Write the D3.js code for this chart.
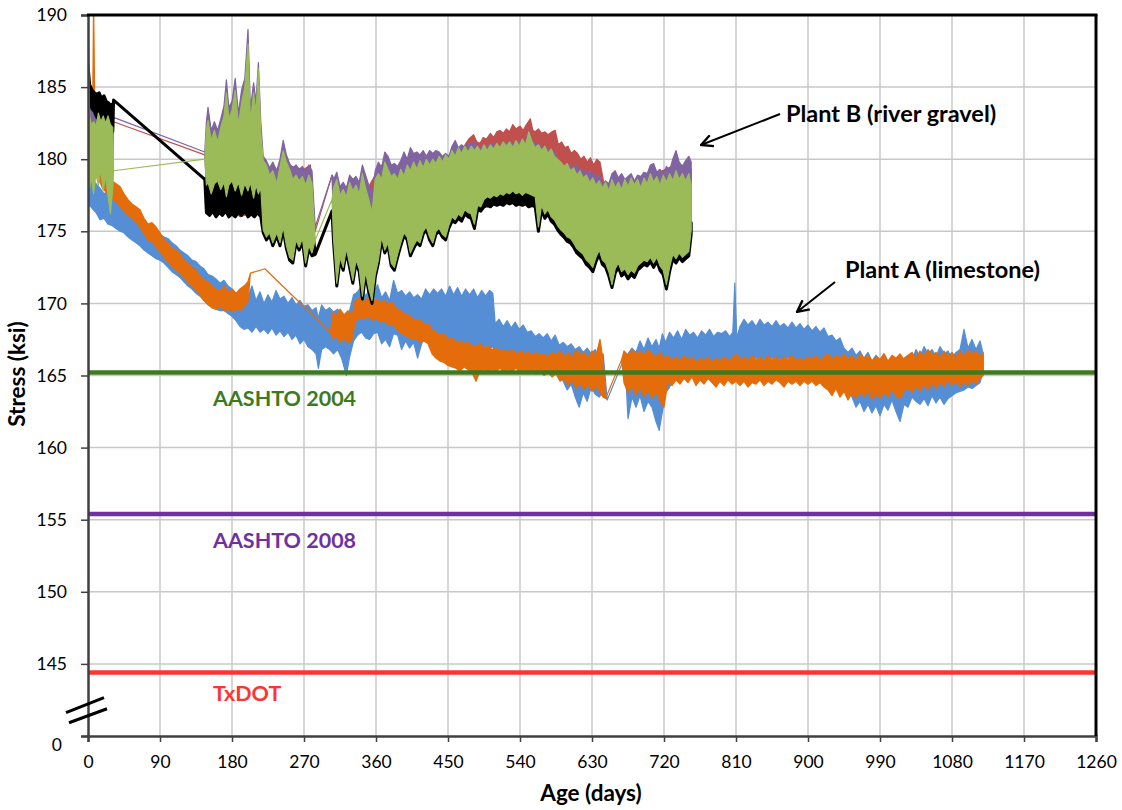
<!DOCTYPE html>
<html>
<head>
<meta charset="utf-8">
<script src="https://cdn.jsdelivr.net/npm/d3@7"></script>
<style>
  body { margin: 0; background: #fff; }
  text { font-family: Lato, "Open Sans", sans-serif; }
</style>
</head>
<body>
<svg id="chart" width="1122" height="810"></svg>
<script>
// Axis ticks
const ageTicks = [0, 90, 180, 270, 360, 450, 540, 630, 720, 810, 900, 990, 1080, 1170, 1260];
const stressTicks = [140, 145, 150, 155, 160, 165, 170, 175, 180, 185, 190];
const stressTickLabels = ["0", "145", "150", "155", "160", "165", "170", "175", "180", "185", "190"];

// Code limits (ksi)
const limitNames = ["AASHTO 2004", "AASHTO 2008", "TxDOT"];
const limitValues = [165.2, 155.4, 144.4];
const limitColors = ["#3d7a1f", "#7030a0", "#ff3333"];

// Strand stress records: [age (days), daily low (ksi), daily high (ksi)]
// Plant A (limestone)
const plantABlue = [[0,177.0,191.0],[2,176.8,179.0],[5,176.6,178.6],[10,176.3,178.3],[15,175.8,178.0],[20,175.9,177.6],[25,175.5,177.8],[30,175.4,177.3],[35,175.2,177.4],[40,175.0,177.0],[45,174.9,176.9],[50,174.6,176.6],[55,174.4,176.5],[60,174.2,176.1],[65,174.0,176.0],[70,173.7,175.6],[75,173.5,175.4],[80,173.3,175.2],[85,173.1,175.0],[90,173.0,174.8],[95,172.8,174.6],[100,172.5,174.5],[105,172.2,174.2],[110,172.0,174.0],[115,171.8,173.7],[120,171.5,173.5],[125,171.2,173.3],[130,171.0,173.0],[135,170.7,172.9],[140,170.5,172.6],[145,170.2,172.4],[150,170.0,172.0],[155,169.7,171.9],[160,169.6,171.7],[165,169.5,171.4],[170,169.5,171.6],[175,169.3,171.2],[180,169.1,171.0],[185,168.8,170.7],[190,168.4,170.6],[195,168.2,170.3],[200,168.3,170.5],[205,168.0,171.2],[210,168.4,170.2],[215,168.0,170.8],[220,168.2,170.0],[225,167.9,170.6],[230,168.3,170.1],[235,167.8,170.9],[240,168.1,170.3],[245,167.7,170.5],[250,168.0,170.0],[255,167.5,170.4],[260,167.8,169.9],[265,167.2,170.2],[270,167.5,169.8],[275,167.0,169.9],[280,166.8,169.5],[285,166.5,169.7],[288,165.5,169.0],[292,166.8,169.9],[297,167.0,169.5],[302,166.8,169.7],[307,166.5,169.4],[312,166.8,169.6],[317,166.2,169.2],[323,165.0,168.8],[327,166.3,169.5],[332,167.4,170.6],[337,167.8,170.8],[342,168.0,171.2],[347,167.6,170.5],[352,167.5,171.0],[357,167.9,170.7],[362,168.0,171.3],[367,167.2,170.4],[372,167.5,170.8],[377,167.0,170.2],[382,167.9,171.6],[387,167.8,170.7],[392,166.8,170.9],[397,167.4,170.5],[402,166.9,170.8],[407,167.3,170.4],[412,166.2,170.6],[417,167.2,170.3],[422,167.8,171.0],[427,167.6,170.6],[432,167.9,171.0],[437,167.5,170.7],[442,167.7,171.0],[447,167.6,170.5],[452,167.2,171.2],[457,166.9,170.6],[462,167.3,171.1],[467,167.0,170.5],[472,166.8,171.0],[477,167.2,170.6],[482,166.9,171.0],[487,167.0,170.4],[492,166.8,170.9],[497,167.1,170.5],[502,166.9,170.9],[506,167.0,170.7],[509,166.6,168.6],[514,166.4,168.9],[519,166.6,168.4],[524,166.2,168.8],[529,166.5,168.3],[534,166.3,168.7],[539,166.6,168.2],[544,166.2,168.5],[549,166.4,168.0],[554,166.2,168.1],[559,166.4,167.7],[564,166.1,167.9],[569,166.3,167.6],[574,166.0,167.9],[579,166.2,167.4],[584,165.7,167.8],[589,165.2,167.1],[594,164.6,167.3],[599,164.0,167.0],[604,164.4,167.2],[609,163.5,166.8],[614,162.8,167.0],[619,163.8,166.6],[624,163.2,166.9],[629,164.2,166.5],[634,163.7,166.8],[639,163.5,166.2],[644,163.9,166.5],[649,163.3,163.3],[671,166.3,166.3],[675,162.0,166.5],[680,163.5,166.9],[685,162.8,166.6],[690,163.6,167.4],[695,162.5,166.8],[700,163.2,167.6],[705,162.8,167.0],[710,161.8,167.5],[714,161.2,166.9],[718,162.5,167.9],[722,163.8,167.3],[727,164.2,168.0],[732,164.8,167.6],[737,165.0,168.1],[742,165.3,167.5],[747,165.6,168.2],[752,165.2,167.8],[757,165.5,168.0],[762,165.4,167.6],[767,165.6,168.1],[772,165.3,167.8],[777,165.7,168.2],[782,165.4,167.7],[787,165.8,168.0],[792,165.5,167.9],[797,165.9,168.1],[802,165.6,167.7],[806,165.8,168.0],[808.5,165.9,171.4],[811,165.8,167.6],[815,166.0,168.4],[820,166.2,168.9],[825,166.1,168.5],[830,166.3,168.8],[835,166.2,168.4],[840,166.3,168.9],[845,166.1,168.5],[850,166.3,168.7],[855,166.2,168.4],[860,166.3,168.8],[865,166.1,168.4],[870,166.3,168.6],[875,166.2,168.3],[880,166.3,168.7],[885,166.1,168.3],[890,166.2,168.6],[895,166.0,168.2],[900,166.2,168.5],[905,166.0,168.1],[910,166.1,168.4],[915,165.9,168.0],[920,166.0,168.3],[925,165.6,167.7],[930,165.4,167.8],[935,165.5,167.4],[940,165.3,167.6],[945,164.8,166.9],[950,164.0,166.6],[955,163.5,166.9],[960,162.8,166.4],[965,163.2,166.7],[970,162.5,166.2],[975,163.0,166.6],[980,162.4,166.0],[985,162.9,166.4],[990,162.2,166.1],[995,163.0,166.5],[1000,162.6,165.9],[1005,163.3,166.3],[1010,162.5,166.0],[1015,161.8,165.8],[1020,163.0,166.2],[1025,162.8,166.4],[1030,163.5,166.0],[1035,163.2,166.8],[1040,163.0,166.3],[1045,163.4,167.0],[1050,162.9,166.5],[1055,163.6,166.8],[1060,163.1,166.3],[1065,163.5,167.0],[1070,163.0,166.5],[1075,163.4,166.7],[1080,163.6,166.2],[1085,163.8,166.6],[1090,163.9,166.8],[1095,164.0,168.2],[1100,164.2,166.9],[1105,164.1,167.5],[1110,164.3,166.8],[1115,164.5,167.4],[1119,165.3,166.5]];

const plantAOrange = [[0,180.5,183.5],[3,180.0,182.2],[6,179.7,184.5],[7,179.5,191.0],[9,179.0,180.8],[12,178.6,179.8],[15,178.4,179.6],[18,178.0,179.2],[21,177.8,179.0],[25,177.6,178.6],[30,177.3,178.5],[35,177.0,178.3],[40,176.7,178.1],[45,176.4,177.6],[50,176.1,177.2],[55,175.9,176.9],[60,175.6,176.7],[65,175.3,176.5],[70,174.8,175.9],[75,174.4,175.5],[80,174.3,175.6],[85,173.9,175.3],[90,173.6,174.9],[95,173.2,174.4],[100,172.9,174.2],[105,172.6,173.8],[110,172.3,173.7],[115,172.1,173.4],[120,171.8,173.0],[125,171.5,172.8],[130,171.2,172.5],[135,170.9,172.3],[140,170.6,171.9],[145,170.2,171.6],[150,169.9,171.5],[155,169.7,171.2],[160,169.6,171.0],[165,169.8,170.9],[170,169.5,171.2],[175,169.6,170.8],[180,169.4,171.0],[185,169.6,170.7],[190,169.5,171.0],[195,169.8,171.2],[200,170.1,171.5],[203,172.1,172.1],[221,172.4,172.4],[303,168.0,168.0],[306,167.5,169.4],[310,167.8,169.1],[315,167.3,169.6],[320,167.6,169.2],[325,167.2,169.5],[330,167.5,169.1],[334,168.7,170.2],[340,169.0,170.4],[345,168.9,170.1],[350,169.1,170.4],[355,168.8,170.0],[360,169.0,170.3],[365,168.7,170.1],[370,168.8,170.2],[375,168.5,169.9],[380,168.6,170.1],[385,168.3,169.7],[390,168.0,169.5],[395,167.8,169.3],[400,167.7,169.2],[405,167.5,169.0],[410,167.6,168.8],[415,167.3,168.9],[420,167.4,168.5],[425,167.2,168.6],[430,166.5,168.2],[435,166.2,168.0],[440,166.0,167.8],[445,165.9,167.9],[450,165.7,167.5],[455,165.6,167.6],[460,165.5,167.3],[465,165.3,167.4],[470,165.6,167.2],[475,165.4,167.3],[480,165.2,167.1],[485,164.6,167.0],[490,165.3,167.2],[495,165.4,166.9],[500,165.2,167.1],[505,165.4,166.8],[510,165.3,166.9],[515,165.5,166.7],[520,165.2,166.8],[525,165.4,166.6],[530,165.3,166.8],[535,165.5,166.5],[540,165.2,166.7],[545,165.4,166.5],[550,165.2,166.6],[555,165.3,166.4],[560,165.1,166.6],[565,165.3,166.4],[570,165.0,166.5],[575,165.2,166.3],[580,164.9,166.6],[585,165.1,166.4],[590,164.6,166.7],[595,164.8,166.3],[600,164.3,166.6],[605,164.7,166.2],[610,164.1,166.8],[615,164.5,166.4],[620,164.0,166.6],[625,164.4,166.2],[630,163.9,166.7],[635,164.3,166.4],[640,163.8,167.5],[644,163.5,166.0],[647,163.4,163.4],[667,166.1,166.1],[670,164.5,166.7],[675,163.8,166.4],[680,164.3,166.8],[685,163.6,166.5],[690,164.2,166.7],[695,163.5,166.4],[700,164.0,166.8],[705,163.4,166.5],[710,163.9,166.3],[715,163.2,166.6],[720,162.8,166.2],[725,164.6,166.4],[730,164.3,166.1],[735,164.7,166.3],[740,164.4,166.0],[745,164.8,166.4],[750,164.5,166.1],[755,164.9,166.3],[760,164.3,165.9],[765,164.7,166.2],[770,164.4,166.0],[775,164.8,166.3],[780,164.5,165.9],[785,164.2,166.2],[790,164.6,166.0],[795,164.3,166.3],[800,164.7,166.0],[805,164.4,166.2],[810,164.6,166.5],[815,164.3,166.1],[820,164.6,166.3],[825,164.2,166.0],[830,164.5,166.4],[835,164.4,166.1],[840,164.7,166.3],[845,164.3,166.0],[850,164.6,166.4],[855,164.4,166.1],[860,164.7,166.3],[865,164.5,166.0],[870,164.2,166.3],[875,164.6,166.1],[880,164.4,166.4],[885,164.6,166.0],[890,164.3,166.2],[895,164.6,166.0],[900,164.4,166.3],[905,164.6,166.1],[910,164.3,166.4],[915,164.5,166.0],[920,164.2,166.3],[925,164.0,166.5],[930,163.6,166.1],[935,164.1,166.4],[940,163.5,166.2],[945,163.9,166.5],[950,163.3,166.1],[955,163.8,166.4],[960,163.4,166.0],[965,163.9,166.5],[970,163.5,166.2],[975,164.0,166.4],[980,163.3,166.0],[985,163.8,166.3],[990,163.4,166.1],[995,163.9,166.5],[1000,163.5,166.0],[1005,164.0,166.4],[1010,163.6,166.2],[1015,163.4,166.5],[1020,163.9,166.1],[1025,164.2,166.4],[1030,163.8,166.6],[1035,164.3,166.2],[1040,163.9,166.7],[1045,164.4,166.3],[1050,164.0,166.8],[1055,164.5,166.4],[1060,164.1,166.6],[1065,164.6,166.2],[1070,164.2,166.7],[1075,164.7,166.3],[1080,164.3,166.6],[1085,164.6,166.2],[1090,164.2,166.7],[1095,164.6,166.3],[1100,164.3,166.8],[1105,164.7,166.4],[1110,164.4,166.7],[1115,164.8,166.3],[1119,165.0,166.6]];

// Plant B (river gravel)
const plantBRed = [[0,180.0,184.2],[5,180.5,183.2],[10,180.2,183.0],[15,180.5,183.2],[20,180.0,182.8],[25,180.3,182.5],[31,180.0,182.6],[32,182.6,182.6],[146,180.3,180.3],[150,176.5,181.2],[160,176.4,181.4],[170,176.2,181.0],[180,176.5,181.6],[190,176.0,181.2],[200,176.2,181.4],[210,176.5,181.0],[216,176.4,181.3],[219,175.5,179.6],[230,175.0,179.0],[240,175.2,179.5],[250,174.5,179.6],[260,174.6,179.4],[270,174.0,179.3],[278,174.3,179.6],[284,175.0,175.0],[305,178.9,178.9],[310,175.0,178.3],[320,174.0,178.0],[330,174.0,178.3],[340,173.5,178.0],[350,173.0,178.0],[360,174.0,179.0],[370,175.0,179.8],[380,174.5,179.3],[390,175.0,179.4],[400,175.5,180.0],[410,175.5,180.0],[420,176.0,180.1],[430,176.0,180.2],[440,176.0,180.2],[450,176.5,180.1],[460,177.0,180.6],[470,177.0,180.9],[476,177.5,181.4],[482,177.5,181.7],[486,177.5,181.2],[490,177.5,181.1],[494,177.5,181.5],[498,177.5,181.4],[503,177.5,181.8],[507,177.5,181.5],[511,177.5,181.9],[515,177.5,182.0],[519,177.5,181.8],[523,177.5,182.1],[527,177.5,181.9],[531,177.5,182.4],[535,177.5,182.1],[540,177.5,182.3],[544,177.5,182.0],[548,177.5,182.4],[553,177.5,182.8],[556,177.5,182.0],[559,177.5,181.9],[563,177.5,182.1],[567,177.5,181.8],[571,177.5,181.9],[575,177.5,181.7],[580,177.5,181.9],[584,177.5,182.0],[588,177.0,181.0],[592,177.0,181.2],[596,176.5,180.8],[600,176.5,180.9],[604,176.0,180.4],[608,176.0,180.6],[612,175.5,180.4],[616,175.5,180.0],[620,175.5,180.2],[624,175.0,179.8],[628,175.0,180.1],[632,175.0,179.6],[636,175.0,180.0],[640,175.0,179.8],[644,175.0,178.6],[648,175.0,177.8],[655,175.0,178.6],[670,175.0,178.4],[690,175.0,178.5],[710,175.0,179.0],[730,175.0,179.5],[750,175.0,179.6],[754,175.5,179.3]];

const plantBPurple = [[0,180.0,185.5],[2,181.5,184.6],[5,181.2,184.0],[8,181.0,183.9],[11,181.4,183.7],[14,181.0,184.1],[17,181.3,183.6],[20,181.0,183.5],[23,180.7,183.7],[26,180.6,183.3],[29,180.4,183.2],[31,180.6,183.0],[32,182.9,182.9],[146,180.5,180.5],[148,178.0,182.6],[150,177.8,183.6],[154,178.0,182.0],[158,177.6,182.6],[162,178.0,182.0],[166,177.7,182.8],[170,178.2,183.7],[173,177.6,185.5],[176,178.0,183.6],[180,177.7,184.0],[184,178.0,185.6],[188,177.5,183.2],[192,177.8,184.8],[196,177.6,185.6],[200,178.0,189.0],[203,177.4,183.5],[207,177.9,185.3],[210,177.6,184.0],[213,177.8,186.7],[216,177.2,182.6],[219,176.0,180.2],[223,175.5,179.9],[227,175.8,179.4],[231,175.2,179.8],[236,175.8,179.2],[240,175.2,180.0],[244,176.2,181.3],[248,175.0,180.3],[252,174.2,179.7],[256,174.0,179.4],[260,175.3,179.6],[264,174.9,179.3],[268,175.4,179.5],[272,173.8,179.1],[276,175.0,179.6],[280,174.5,179.2],[284,175.3,175.3],[305,178.9,178.9],[307,175.4,178.6],[311,172.6,179.1],[315,174.2,178.1],[319,173.5,178.4],[323,174.8,178.0],[327,173.7,178.9],[331,172.6,178.6],[335,174.0,178.8],[339,173.4,178.4],[343,171.6,179.6],[347,173.2,178.9],[351,172.0,178.2],[355,171.3,177.4],[359,173.0,179.2],[363,174.0,179.8],[367,175.6,179.4],[371,174.7,180.5],[375,175.2,180.2],[379,173.8,179.6],[383,173.5,179.7],[387,174.4,179.5],[391,175.2,179.9],[395,175.9,180.5],[399,175.6,180.0],[403,174.5,180.8],[407,175.0,180.4],[411,175.4,180.5],[415,175.2,180.3],[419,176.0,180.6],[423,176.3,180.2],[427,175.6,180.6],[431,175.2,180.4],[435,176.0,180.6],[439,176.2,180.5],[443,175.8,180.2],[447,175.6,180.4],[451,176.4,180.2],[455,177.0,180.9],[459,176.8,181.3],[463,177.2,180.8],[467,177.0,181.0],[471,177.5,180.8],[475,177.3,181.1],[479,177.2,181.0],[483,176.5,181.2],[487,177.6,180.8],[491,177.6,180.7],[495,177.8,181.0],[499,177.9,180.8],[503,177.9,181.1],[507,178.0,181.0],[511,178.0,180.8],[515,178.0,180.9],[519,178.0,181.0],[523,178.1,181.1],[527,178.0,181.2],[531,178.1,181.0],[535,178.0,181.1],[539,178.0,181.3],[543,177.9,181.0],[547,178.0,181.3],[551,177.9,182.0],[555,177.8,181.3],[559,177.7,181.0],[563,176.3,181.1],[567,177.6,180.8],[571,177.2,180.9],[575,177.4,180.6],[579,177.0,180.7],[583,176.8,180.5],[587,176.4,180.0],[591,176.1,179.6],[595,175.9,179.5],[599,175.6,179.7],[603,175.5,179.5],[607,175.2,179.4],[611,174.8,179.6],[615,174.6,179.2],[619,174.4,179.3],[623,174.0,179.0],[627,173.8,179.2],[631,173.5,179.0],[635,174.2,178.8],[639,174.7,178.9],[643,174.0,178.2],[647,173.8,178.5],[651,173.2,178.3],[655,172.3,179.0],[659,173.4,179.2],[663,173.8,178.7],[667,173.2,179.0],[671,173.4,178.6],[675,173.0,178.8],[679,173.3,179.0],[683,173.1,178.5],[687,173.6,178.9],[691,173.8,178.8],[695,174.0,179.1],[699,173.9,179.0],[703,174.2,179.6],[707,173.8,179.7],[711,174.2,179.1],[715,173.6,179.3],[719,173.3,178.9],[723,172.3,179.5],[727,173.5,179.2],[731,174.4,180.0],[735,174.1,180.6],[739,174.5,179.8],[743,174.2,179.5],[747,174.4,179.9],[751,174.6,180.2],[754,176.1,179.8]];

const plantBBlack = [[0,184.5,186.5],[2,184.0,185.2],[5,183.5,184.8],[8,183.3,184.6],[11,182.9,184.5],[14,182.7,184.6],[17,182.5,184.2],[20,182.8,184.4],[23,182.4,184.0],[26,181.9,183.9],[27,181.0,183.6],[29,182.2,183.8],[31,181.9,183.5],[32,184.1,184.1],[146,178.6,178.6],[148,176.3,178.7],[152,176.1,178.5],[156,176.4,178.8],[160,176.0,178.4],[164,176.3,178.9],[168,176.1,178.5],[172,176.4,178.7],[176,176.0,178.4],[180,176.2,178.8],[184,176.0,178.5],[188,176.3,179.0],[192,176.1,178.6],[196,176.4,178.9],[200,176.0,178.5],[204,176.2,178.8],[208,176.0,178.4],[212,176.3,178.7],[216,176.0,178.2],[219,174.9,177.0],[223,174.4,176.6],[227,174.7,176.8],[231,174.0,176.3],[236,174.7,176.8],[240,174.0,176.2],[244,175.1,177.0],[248,173.8,176.0],[252,173.0,175.5],[256,172.8,175.2],[260,174.2,176.3],[264,173.7,175.9],[268,174.3,176.5],[272,172.6,175.0],[276,173.8,176.0],[280,173.3,175.6],[284,173.4,173.4],[305,176.4,176.4],[307,174.2,176.2],[311,171.2,174.0],[315,173.0,175.2],[319,172.3,174.6],[323,173.6,175.8],[327,172.5,174.8],[331,171.4,174.0],[335,172.8,175.0],[339,172.2,174.5],[343,170.3,173.0],[347,172.0,174.3],[351,170.8,173.4],[355,170.0,172.8],[359,171.8,174.2],[363,172.8,175.0],[367,174.4,176.4],[371,173.5,175.8],[375,174.0,176.2],[379,172.6,175.0],[383,172.3,174.8],[387,173.2,175.5],[391,174.0,176.2],[395,174.7,176.8],[399,174.4,176.5],[403,173.3,175.6],[407,173.8,176.0],[411,174.2,176.4],[415,174.0,176.2],[419,174.8,176.8],[423,175.1,177.0],[427,174.4,176.6],[431,174.0,176.2],[435,174.8,176.9],[439,175.0,177.0],[443,174.6,176.8],[447,174.4,176.7],[451,175.2,177.2],[455,175.7,177.4],[459,175.6,177.3],[463,175.9,177.5],[467,175.7,177.4],[471,176.2,177.6],[475,176.0,177.5],[479,175.9,177.6],[483,175.2,177.4],[487,176.5,177.7],[491,176.4,177.8],[495,176.7,177.8],[499,176.8,177.9],[503,176.7,177.8],[507,176.9,178.0],[511,176.8,177.9],[515,176.9,178.0],[519,176.8,178.0],[523,177.0,178.1],[527,176.9,178.0],[531,177.0,178.1],[535,176.8,178.0],[539,176.9,178.1],[543,176.8,177.9],[547,176.9,178.0],[551,176.7,177.9],[555,176.8,177.8],[559,176.7,177.7],[563,175.0,177.2],[567,176.5,177.5],[571,175.9,177.3],[575,176.2,177.4],[579,175.7,177.2],[583,175.5,177.0],[587,175.1,176.8],[591,174.8,176.6],[595,174.6,176.4],[599,174.3,176.2],[603,174.2,176.1],[607,173.9,175.9],[611,173.5,175.6],[615,173.3,175.5],[619,173.1,175.3],[623,172.7,175.0],[627,172.5,174.8],[631,172.2,174.6],[635,172.9,175.0],[639,173.4,175.4],[643,172.7,174.9],[647,172.5,174.8],[651,171.9,174.3],[655,171.1,173.8],[659,172.1,174.4],[663,172.5,174.7],[667,171.9,174.3],[671,172.1,174.5],[675,171.7,174.2],[679,172.0,174.4],[683,171.8,174.3],[687,172.3,174.6],[691,172.5,174.8],[695,172.7,174.9],[699,172.6,174.9],[703,172.9,175.1],[707,172.5,174.8],[711,172.9,175.1],[715,172.3,174.7],[719,172.0,174.4],[723,171.0,173.8],[727,172.2,174.5],[731,173.1,175.2],[735,172.8,175.0],[739,173.2,175.3],[743,172.9,175.1],[747,173.1,175.2],[751,173.3,175.4],[754,174.8,175.6]];

const plantBGreen = [[0,178.5,190.5],[2,178.0,183.0],[4,178.8,182.4],[7,177.6,182.6],[10,179.0,182.3],[13,178.2,183.2],[16,179.3,182.6],[19,177.8,183.0],[22,178.9,182.5],[25,177.5,183.0],[28,176.2,182.4],[31,178.0,182.2],[32,179.2,179.2],[146,180.0,180.0],[148,178.2,182.0],[150,178.4,182.7],[154,177.6,181.3],[158,178.3,182.0],[162,178.5,181.2],[166,177.9,182.2],[170,178.4,183.0],[173,177.4,184.6],[176,178.2,182.8],[180,178.5,183.4],[184,177.8,184.8],[188,178.4,182.4],[192,177.5,183.9],[196,178.3,185.0],[200,177.8,188.0],[203,178.4,182.6],[207,177.3,184.6],[210,178.2,183.2],[213,177.6,186.3],[216,178.0,181.8],[219,175.1,179.9],[223,174.6,179.6],[227,174.9,178.9],[231,174.2,179.2],[236,174.9,178.3],[240,174.2,179.5],[244,175.3,180.6],[248,174.0,179.8],[252,173.2,179.3],[256,173.0,178.6],[260,174.4,178.9],[264,173.9,178.5],[268,174.5,178.8],[272,172.8,178.2],[276,174.0,178.9],[280,173.5,178.3],[284,174.4,174.4],[305,177.2,177.2],[307,174.4,178.0],[311,171.4,178.6],[315,173.2,177.5],[319,172.5,177.9],[323,173.8,177.4],[327,172.7,178.4],[331,171.6,177.8],[335,173.0,178.2],[339,172.4,177.6],[343,170.5,179.0],[347,172.2,178.0],[351,171.0,177.2],[355,170.2,176.3],[359,172.0,178.6],[363,173.0,179.0],[367,174.6,178.6],[371,173.7,179.8],[375,174.2,179.3],[379,172.8,178.8],[383,172.5,179.0],[387,173.4,178.6],[391,174.2,179.3],[395,174.9,178.8],[399,174.6,179.6],[403,173.5,179.2],[407,174.0,179.8],[411,174.4,179.3],[415,174.2,179.9],[419,175.0,179.4],[423,175.3,180.0],[427,174.6,179.6],[431,174.2,180.0],[435,175.0,179.7],[439,175.2,180.2],[443,174.8,179.8],[447,174.6,180.3],[451,175.4,180.0],[455,176.0,180.6],[459,175.8,180.2],[463,176.2,180.8],[467,176.0,180.4],[471,176.5,180.9],[475,176.3,180.5],[479,176.2,180.9],[483,175.5,180.6],[487,176.8,180.9],[491,176.7,180.5],[495,177.2,181.0],[499,177.4,180.6],[503,177.3,181.0],[507,177.5,180.7],[511,177.4,181.1],[515,177.6,180.8],[519,177.5,181.2],[523,177.7,180.9],[527,177.6,181.2],[531,177.8,180.8],[535,177.6,181.3],[539,177.7,180.9],[543,177.5,181.4],[547,177.7,181.0],[551,177.6,181.9],[555,177.5,181.2],[559,177.4,180.8],[563,175.3,181.0],[567,176.8,180.6],[571,176.2,180.9],[575,176.5,180.4],[579,176.0,180.7],[583,175.8,180.2],[587,175.4,180.0],[591,175.1,179.8],[595,174.9,179.5],[599,174.6,179.7],[603,174.5,179.2],[607,174.2,179.4],[611,173.8,178.9],[615,173.6,179.2],[619,173.4,178.7],[623,173.0,178.9],[627,172.8,178.4],[631,172.5,178.7],[635,173.2,178.2],[639,173.7,178.5],[643,173.0,178.0],[647,172.8,178.4],[651,172.2,177.8],[655,171.3,178.6],[659,172.4,178.0],[663,172.8,178.4],[667,172.2,177.9],[671,172.4,178.6],[675,172.0,178.1],[679,172.3,178.7],[683,172.1,178.2],[687,172.6,178.6],[691,172.8,178.0],[695,173.0,178.7],[699,172.9,178.3],[703,173.2,179.0],[707,172.8,178.4],[711,173.2,178.8],[715,172.6,178.2],[719,172.3,178.9],[723,171.3,178.4],[727,172.5,179.0],[731,173.4,178.5],[735,173.1,179.2],[739,173.5,178.6],[743,173.2,179.0],[747,173.4,178.5],[751,173.6,179.0],[754,175.1,178.2]];

// Drawing order: Plant A first, then Plant B (red, purple, black, green on top)
const seriesList = [
  { data: plantABlue,   color: "#558ed5", width: 1.2 },
  { data: plantAOrange, color: "#e46c0a", width: 1.2 },
  { data: plantBRed,    color: "#c0504d", width: 1.2 },
  { data: plantBPurple, color: "#8064a2", width: 1.2 },
  { data: plantBBlack,  color: "#000000", width: 3.0 },
  { data: plantBGreen,  color: "#9bbb59", width: 1.2 }
];

const svg = d3.select("#chart");
svg.append("rect").attr("width", 1122).attr("height", 810).attr("fill", "#fff");

const plotLeft = 88, plotRight = 1096, plotTop = 15, plotBottom = 736;
const x = d3.scaleLinear().domain([0, 1260]).range([plotLeft, plotRight]);
const y = d3.scaleLinear().domain([140, 190]).range([plotBottom, plotTop]);

// Gridlines
const grid = svg.append("g").attr("stroke", "#c8c8c8").attr("stroke-width", 1.5);
grid.selectAll("line.v").data(ageTicks.slice(1, -1)).join("line").attr("class", "v")
  .attr("x1", d => x(d)).attr("x2", d => x(d)).attr("y1", plotTop).attr("y2", plotBottom);
grid.selectAll("line.h").data(stressTicks.slice(1, -1)).join("line").attr("class", "h")
  .attr("x1", plotLeft).attr("x2", plotRight).attr("y1", d => y(d)).attr("y2", d => y(d));

svg.append("clipPath").attr("id", "plotClip")
  .append("rect").attr("x", plotLeft).attr("y", plotTop)
  .attr("width", plotRight - plotLeft).attr("height", plotBottom - plotTop);

// Stress records drawn as daily low/high bands
const band = d3.area()
  .x(d => x(d[0]))
  .y0(d => y(d[1]))
  .y1(d => y(d[2]));

const plot = svg.append("g").attr("clip-path", "url(#plotClip)");
seriesList.forEach(s => {
  plot.append("path")
    .attr("d", band(s.data))
    .attr("fill", s.color)
    .attr("stroke", s.color)
    .attr("stroke-width", s.width)
    .attr("stroke-linejoin", "round");
});

// Code limit lines
plot.selectAll("line.limit").data(limitValues).join("line").attr("class", "limit")
  .attr("x1", plotLeft).attr("x2", plotRight)
  .attr("y1", d => y(d)).attr("y2", d => y(d))
  .attr("stroke", (d, i) => limitColors[i])
  .attr("stroke-width", 4.5);

// Axes
const xAxis = svg.append("g").attr("transform", `translate(0,${plotBottom})`)
  .call(d3.axisBottom(x).tickValues(ageTicks).tickSize(6).tickPadding(14).tickFormat(d3.format("d")));
const yAxis = svg.append("g").attr("transform", `translate(${plotLeft},0)`)
  .call(d3.axisLeft(y).tickValues(stressTicks).tickSize(7).tickPadding(14)
    .tickFormat((d, i) => stressTickLabels[i]));
[xAxis, yAxis].forEach(a => {
  a.select(".domain").attr("stroke", "#404040").attr("stroke-width", 2.5);
  a.selectAll(".tick line").attr("stroke", "#404040").attr("stroke-width", 1.5);
  a.selectAll(".tick text").attr("font-size", 17.5).attr("fill", "#000")
    .style("font-family", "Lato, 'Open Sans', sans-serif");
});
// the broken-axis origin label sits just below its tick
yAxis.selectAll(".tick").filter(d => d === 140).select("text")
  .attr("transform", "translate(-5,9)");

// Top and right frame
svg.append("line").attr("x1", plotLeft - 1).attr("x2", plotRight + 1.5)
  .attr("y1", plotTop).attr("y2", plotTop)
  .attr("stroke", "#000").attr("stroke-width", 3);
svg.append("line").attr("x1", plotRight).attr("x2", plotRight)
  .attr("y1", plotTop).attr("y2", plotBottom)
  .attr("stroke", "#000").attr("stroke-width", 3);

// Axis break marks
const breakY = y(142.1);
svg.append("g").attr("stroke", "#000").attr("stroke-width", 3)
  .selectAll("line").data([0, 10]).join("line")
  .attr("x1", d => plotLeft - 22 + d * 0.3).attr("y1", d => breakY + 7 + d)
  .attr("x2", d => plotLeft + 16 + d * 0.3).attr("y2", d => breakY - 8 + d * 1.1);

// Axis titles
svg.append("text").attr("x", 591).attr("y", 801).attr("text-anchor", "middle")
  .attr("font-size", 22.5).attr("font-weight", 700).text("Age (days)");
svg.append("text").attr("transform", "translate(25,374) rotate(-90)").attr("text-anchor", "middle")
  .attr("font-size", 22.5).attr("font-weight", 700).text("Stress (ksi)");

// Limit labels
const labelRows = [406, 548, 701];
svg.selectAll("text.limitLabel").data(limitNames).join("text").attr("class", "limitLabel")
  .attr("x", 213).attr("y", (d, i) => labelRows[i])
  .attr("font-size", 21.5).attr("font-weight", 700)
  .attr("fill", (d, i) => limitColors[i])
  .text(d => d);

// Plant annotations with arrows
const defs = svg.append("defs");
defs.append("marker").attr("id", "openHead")
  .attr("viewBox", "0 0 12 12").attr("refX", 11).attr("refY", 6)
  .attr("markerWidth", 14).attr("markerHeight", 14).attr("markerUnits", "userSpaceOnUse")
  .attr("orient", "auto")
  .append("path").attr("d", "M1,1 L11,6 L1,11").attr("fill", "none")
  .attr("stroke", "#000").attr("stroke-width", 2);

svg.append("text").attr("x", 786).attr("y", 122).attr("font-size", 23.5).attr("font-weight", 700)
  .text("Plant B (river gravel)");
svg.append("line").attr("x1", 780).attr("y1", 114).attr("x2", 701).attr("y2", 145)
  .attr("stroke", "#000").attr("stroke-width", 2).attr("marker-end", "url(#openHead)");

svg.append("text").attr("x", 845).attr("y", 278).attr("font-size", 23.5).attr("font-weight", 700)
  .text("Plant A (limestone)");
svg.append("line").attr("x1", 835).attr("y1", 282).attr("x2", 797).attr("y2", 312)
  .attr("stroke", "#000").attr("stroke-width", 2).attr("marker-end", "url(#openHead)");
</script>
</body>
</html>
